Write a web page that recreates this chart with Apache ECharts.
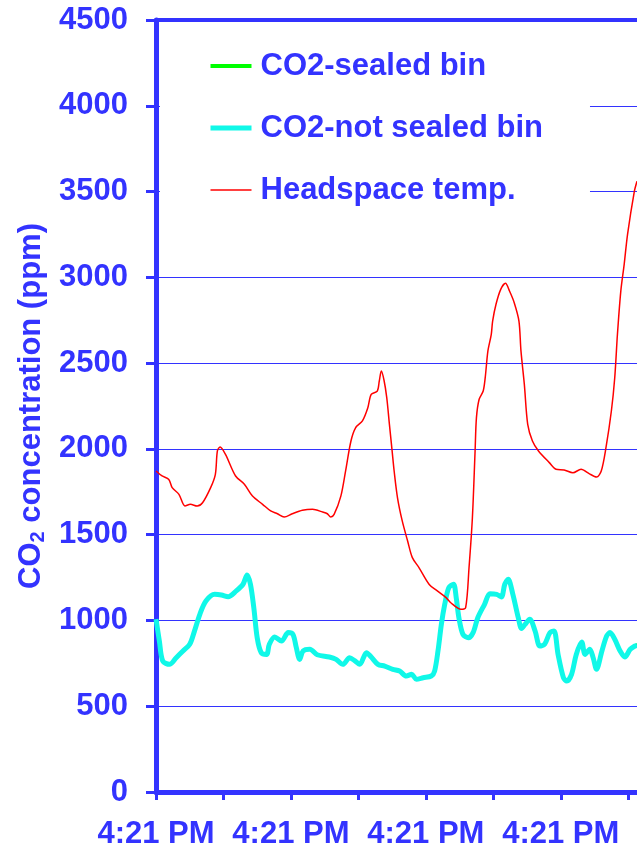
<!DOCTYPE html>
<html>
<head>
<meta charset="utf-8">
<script src="https://cdn.jsdelivr.net/npm/echarts@6/dist/echarts.min.js"></script>
<style>html,body{margin:0;padding:0;background:#fff}#c{width:637px;height:850px}</style>
</head>
<body>
<div id="c"></div>
<script>
// ---- data (x in axis tick units; each tick labelled 4:21 PM on even ticks) ----
const xTickLabels = ['4:21 PM', '', '4:21 PM', '', '4:21 PM', '', '4:21 PM', ''];
const yTicks = [0, 500, 1000, 1500, 2000, 2500, 3000, 3500, 4000, 4500];
const seriesNames = ['CO2-sealed bin', 'CO2-not sealed bin', 'Headspace temp.'];

const sealedX = [7.10, 7.14];
const sealedY = [850, 857];

const notSealedX = [0.00,0.05,0.10,0.20,0.30,0.40,0.50,0.57,0.65,0.74,0.87,0.97,1.07,1.19,1.29,1.35,1.40,1.45,1.50,1.56,1.64,1.68,1.76,1.86,1.96,2.03,2.08,2.13,2.18,2.28,2.39,2.57,2.67,2.77,2.87,2.95,3.02,3.12,3.19,3.29,3.39,3.51,3.61,3.71,3.79,3.86,3.96,4.08,4.13,4.18,4.23,4.28,4.34,4.41,4.45,4.49,4.55,4.63,4.70,4.77,4.87,4.95,5.05,5.12,5.17,5.22,5.29,5.37,5.42,5.47,5.54,5.62,5.69,5.76,5.84,5.90,5.96,6.04,6.09,6.16,6.23,6.31,6.36,6.43,6.48,6.53,6.61,6.68,6.73,6.80,6.88,6.95,7.03,7.10,7.13];
const notSealedY = [1007,880,764,744,783,822,861,938,1036,1113,1152,1148,1138,1172,1211,1265,1211,1074,899,812,802,861,903,880,929,919,841,773,822,832,800,787,773,744,783,764,744,812,787,744,734,715,705,676,686,657,666,676,705,822,977,1094,1191,1211,1133,1016,919,899,929,1016,1094,1156,1152,1137,1211,1240,1152,1016,953,977,1007,938,851,861,929,938,802,666,647,686,802,875,802,832,783,715,822,909,929,890,822,787,832,851,855];

const tempX = [0.00,0.09,0.19,0.24,0.34,0.43,0.51,0.61,0.69,0.81,0.88,0.91,0.95,1.03,1.18,1.31,1.43,1.58,1.70,1.80,1.90,2.02,2.17,2.32,2.47,2.54,2.59,2.64,2.74,2.81,2.89,2.96,3.06,3.14,3.19,3.28,3.31,3.34,3.38,3.42,3.46,3.50,3.53,3.58,3.65,3.73,3.80,3.90,4.05,4.17,4.30,4.37,4.52,4.59,4.64,4.69,4.73,4.75,4.79,4.85,4.88,4.92,4.97,4.99,5.04,5.11,5.18,5.24,5.31,5.38,5.41,5.46,5.51,5.58,5.67,5.83,5.93,6.05,6.18,6.30,6.42,6.53,6.60,6.67,6.75,6.80,6.84,6.89,6.94,6.99,7.09,7.13];
const tempY = [1871,1842,1822,1774,1735,1667,1677,1667,1686,1774,1852,1988,2011,1968,1842,1794,1725,1677,1638,1622,1603,1622,1642,1648,1632,1622,1603,1618,1725,1871,2046,2124,2163,2240,2318,2337,2396,2454,2400,2300,2143,1988,1871,1715,1580,1463,1366,1307,1210,1172,1133,1103,1065,1075,1307,1599,1988,2182,2289,2337,2415,2571,2668,2745,2843,2930,2965,2920,2852,2745,2571,2376,2143,2046,1988,1920,1881,1877,1861,1881,1856,1836,1871,2007,2221,2415,2668,2920,3076,3251,3500,3560];

const zip = (xs, ys) => xs.map((x, i) => [x, ys[i]]);

const BLUE = '#3333FF';
const FONT = '"Liberation Sans", Arial, sans-serif';
const COLORS = ['#00FF00', '#10F8E8', '#FF0000'];
const WIDTHS = [4, 5, 1.5];
const X_MAX = 7.13;

const chart = echarts.init(document.getElementById('c'), null, {renderer: 'canvas'});
chart.setOption({
  animation: false,
  backgroundColor: '#ffffff',
  grid: {left: 156, top: 20, height: 772, right: 0, containLabel: false},
  legend: {
    orient: 'vertical',
    left: 160, top: 30,
    padding: [19, 47, 14, 48],
    backgroundColor: '#ffffff',
    itemWidth: 41, itemHeight: 14, itemGap: 28,
    itemStyle: {opacity: 0},
    data: seriesNames.map((n, i) => ({name: n, lineStyle: {color: COLORS[i], width: WIDTHS[i]}})),
    textStyle: {color: BLUE, fontFamily: FONT, fontWeight: 'bold', fontSize: 31, lineHeight: 34, padding: [0, 0, 0, 4]}
  },
  xAxis: [{
    type: 'value', min: 0, max: X_MAX, interval: 1, position: 'bottom',
    axisLine: {show: true, onZero: false, lineStyle: {color: BLUE, width: 5}},
    axisTick: {show: true, length: 8, lineStyle: {color: BLUE, width: 3}},
    splitLine: {show: false},
    axisLabel: {
      color: BLUE, fontFamily: FONT, fontWeight: 'bold', fontSize: 31, margin: 27,
      showMaxLabel: false,
      formatter: v => (Number.isInteger(v) && xTickLabels[v]) ? xTickLabels[v] : ''
    }
  }, {
    type: 'value', min: 0, max: X_MAX, position: 'top',
    axisLine: {show: true, onZero: false, lineStyle: {color: BLUE, width: 4}},
    axisTick: {show: false}, axisLabel: {show: false}, splitLine: {show: false}
  }],
  yAxis: {
    type: 'value', min: yTicks[0], max: yTicks[yTicks.length - 1], interval: 500,
    name: 'CO{sub|2} concentration (ppm)',
    nameLocation: 'middle', nameRotate: 90, nameGap: 107,
    nameTextStyle: {
      color: BLUE, fontFamily: FONT, fontWeight: 'bold', fontSize: 31,
      rich: {sub: {color: BLUE, fontFamily: FONT, fontWeight: 'bold', fontSize: 20, verticalAlign: 'bottom', lineHeight: 34}}
    },
    axisLine: {show: true, lineStyle: {color: BLUE, width: 5}},
    axisTick: {show: true, length: 10, lineStyle: {color: BLUE, width: 3}},
    splitLine: {show: true, lineStyle: {color: BLUE, width: 1.2}},
    axisLabel: {color: BLUE, fontFamily: FONT, fontWeight: 'bold', fontSize: 31, margin: 28,
      formatter: v => String(v)}
  },
  series: seriesNames.map((n, i) => ({
    name: n, type: 'line', symbol: 'none', smooth: i === 0 ? false : 0.3,
    data: [zip(sealedX, sealedY), zip(notSealedX, notSealedY), zip(tempX, tempY)][i],
    lineStyle: {color: COLORS[i], width: WIDTHS[i]}, itemStyle: {color: COLORS[i]}
  }))
});
</script>
</body>
</html>
